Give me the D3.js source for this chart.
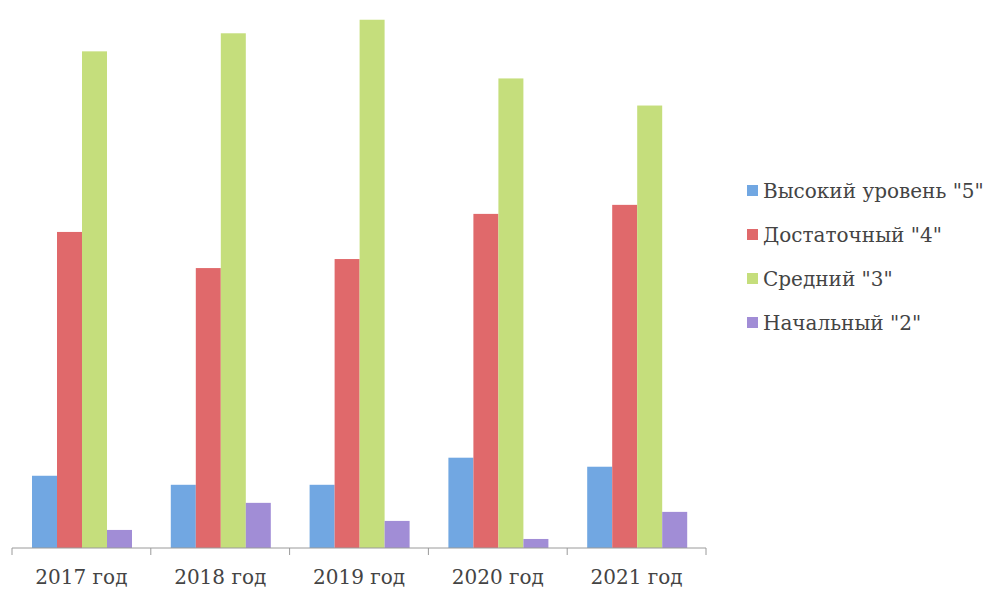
<!DOCTYPE html>
<html>
<head>
<meta charset="utf-8">
<script src="https://cdn.jsdelivr.net/npm/d3@7"></script>
<style>
  body { margin: 0; background: #fff; }
</style>
</head>
<body>
<div id="chart" style="width:1003px;height:597px"></div>
<script>
// data (percent of pupils per level)
const years = ["2017 год", "2018 год", "2019 год", "2020 год", "2021 год"];
const seriesNames = ['Высокий уровень "5"', 'Достаточный "4"', 'Средний "3"', 'Начальный "2"'];
const high5 = [8, 7, 7, 10, 9];
const enough4 = [35, 31, 32, 37, 38];
const middle3 = [55, 57, 58.5, 52, 49];
const start2 = [2, 5, 3, 1, 4];
const colors = ["#71a7e2", "#e0696b", "#c5de7c", "#a18dd6"];

const serif = "DejaVu Serif";
const values = [high5, enough4, middle3, start2];
const rows = years.map((y, i) => ({ year: y, vals: values.map((s, k) => ({ key: k, v: s[i] })) }));

const w = 1003, h = 597;
const svg = d3.select("#chart").append("svg")
    .attr("width", w)
    .attr("height", h);

// SCALES
const x0 = d3.scaleBand().domain(years).range([12, 706]);
const x1 = d3.scaleBand().domain(d3.range(seriesNames.length)).range([20, 120]);
const y = d3.scaleLinear().domain([0, 100]).range([548, -355]);

// BARS
const groups = svg.selectAll(".grp").data(rows).enter()
    .append("g")
    .attr("class", "grp")
    .attr("transform", d => "translate(" + x0(d.year) + ",0)");

groups.selectAll("rect").data(d => d.vals).enter()
    .append("rect")
    .attr("x", d => x1(d.key))
    .attr("width", x1.bandwidth())
    .attr("y", d => y(d.v))
    .attr("height", d => y(0) - y(d.v))
    .attr("fill", d => colors[d.key]);

// AXIS
const xAxis = svg.append("g")
    .attr("transform", "translate(0," + y(0) + ")")
    .call(d3.axisBottom(x0).tickSize(0).tickPadding(22))
    .attr("font-family", serif);
xAxis.select(".domain").attr("stroke", "#9a9a9a").attr("d", "M12,0H706");
xAxis.selectAll(".tick text")
    .style("font-size", "20px")
    .attr("fill", "#444");

// tick marks at band edges
const edges = years.map(d => x0(d)).concat([x0.range()[1]]);
xAxis.selectAll(".edge").data(edges).enter()
    .append("line")
    .attr("class", "edge")
    .attr("x1", d => d).attr("x2", d => d)
    .attr("y1", 0).attr("y2", 7)
    .attr("stroke", "#9a9a9a");

// LEGEND
const legend = svg.append("g").attr("transform", "translate(747,191)");
const items = legend.selectAll(".item").data(seriesNames).enter()
    .append("g")
    .attr("class", "item")
    .attr("transform", (d, i) => "translate(0," + i * 44 + ")");
items.append("rect")
    .attr("x", 0).attr("y", -6)
    .attr("width", 11).attr("height", 11)
    .attr("fill", (d, i) => colors[i]);
items.append("text")
    .attr("x", 16)
    .attr("dy", "0.35em")
    .attr("font-family", serif)
    .style("font-size", "20px")
    .attr("fill", "#444")
    .text(d => d);
</script>
</body>
</html>
